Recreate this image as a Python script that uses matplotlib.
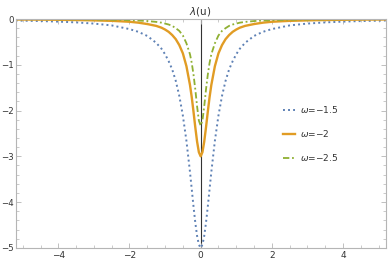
import numpy as np
import matplotlib
matplotlib.use('Agg')
import matplotlib.pyplot as plt
from matplotlib.ticker import MultipleLocator

# values
u = [-5.2, -4.5, -4.0, -3.5, -3.0, -2.5, -2.0, -1.75, -1.5, -1.25, -1.1, -1.0,
     -0.9, -0.8, -0.7, -0.6, -0.5, -0.4, -0.3, -0.25, -0.2, -0.15, -0.1, -0.05,
     0.0,
     0.05, 0.1, 0.15, 0.2, 0.25, 0.3, 0.4, 0.5, 0.6, 0.7, 0.8, 0.9,
     1.0, 1.1, 1.25, 1.5, 1.75, 2.0, 2.5, 3.0, 3.5, 4.0, 4.5, 5.2]

lam_15 = [-0.033, -0.045, -0.057, -0.074, -0.10, -0.14, -0.22, -0.28, -0.37, -0.52, -0.65, -0.77,
          -0.92, -1.10, -1.35, -1.68, -2.11, -2.66, -3.34, -3.72, -4.10, -4.45, -4.74, -4.93,
          -5.00,
          -4.93, -4.74, -4.45, -4.10, -3.72, -3.34, -2.66, -2.11, -1.68, -1.35, -1.10, -0.92,
          -0.77, -0.65, -0.52, -0.37, -0.28, -0.22, -0.14, -0.10, -0.074, -0.057, -0.045, -0.033]

lam_20 = [-0.010, -0.013, -0.017, -0.022, -0.03, -0.04, -0.06, -0.08, -0.11, -0.15, -0.19, -0.23,
          -0.28, -0.35, -0.44, -0.57, -0.75, -1.03, -1.44, -1.71, -2.03, -2.37, -2.68, -2.91,
          -3.00,
          -2.91, -2.68, -2.37, -2.03, -1.71, -1.44, -1.03, -0.75, -0.57, -0.44, -0.35, -0.28,
          -0.23, -0.19, -0.15, -0.11, -0.08, -0.06, -0.04, -0.03, -0.022, -0.017, -0.013, -0.010]

lam_25 = [-0.004, -0.005, -0.006, -0.008, -0.011, -0.016, -0.025, -0.033, -0.045, -0.063, -0.08, -0.10,
          -0.12, -0.15, -0.20, -0.26, -0.36, -0.53, -0.77, -0.96, -1.22, -1.54, -1.91, -2.22,
          -2.33,
          -2.22, -1.91, -1.54, -1.22, -0.96, -0.77, -0.53, -0.36, -0.26, -0.20, -0.15, -0.12,
          -0.10, -0.08, -0.063, -0.045, -0.033, -0.025, -0.016, -0.011, -0.008, -0.006, -0.005, -0.004]

labels = ['$\\omega$=\u22121.5', '$\\omega$=\u22122', '$\\omega$=\u22122.5']

BLUE = '#5E81B5'
ORANGE = '#E19C24'
GREEN = '#8FB032'
FRAME = '#b5b5b5'
TXT = '#333333'

plt.rcParams['font.family'] = 'DejaVu Sans'
plt.rcParams['mathtext.fontset'] = 'dejavusans'

fig = plt.figure(figsize=(3.9, 2.64), dpi=100)
ax = fig.add_axes([0.04, 0.061, 0.949, 0.867])

ax.plot(u, lam_15, color=BLUE, lw=1.4, linestyle=(0, (1, 1.6)), label=labels[0])
ax.plot(u, lam_20, color=ORANGE, lw=1.7, linestyle='-', label=labels[1])
ax.plot(u, lam_25, color=GREEN, lw=1.3, linestyle=(0, (3.5, 1.5, 1, 1.5)), label=labels[2])

ax.axvline(0, color='#333333', lw=0.8, zorder=0)

ax.set_xlim(-5.2, 5.2)
ax.set_ylim(-5, 0)

for s in ax.spines.values():
    s.set_color(FRAME)
    s.set_linewidth(0.8)

ax.xaxis.set_major_locator(MultipleLocator(2))
ax.xaxis.set_minor_locator(MultipleLocator(0.5))
ax.yaxis.set_major_locator(MultipleLocator(1))
ax.yaxis.set_minor_locator(MultipleLocator(0.2))
ax.tick_params(which='both', direction='in', top=True, right=True, color=FRAME,
               labelsize=6.5, labelcolor=TXT)
ax.tick_params(which='major', length=3.5, width=0.6, pad=2)
ax.tick_params(which='minor', length=2, width=0.5)
ax.tick_params(axis='y', which='major', pad=1.2, labelsize=6.2)
ax.set_xticks([-4, -2, 0, 2, 4])
ax.set_xticklabels(['\u22124', '\u22122', '0', '2', '4'])
ax.set_yticks([0, -1, -2, -3, -4, -5])
ax.set_yticklabels(['0', '\u22121', '\u22122', '\u22123', '\u22124', '\u22125'])

ax.set_title('$\\lambda$(u)', fontsize=7.5, color=TXT, pad=3.5)

leg = ax.legend(loc='center left', bbox_to_anchor=(0.7, 0.5), frameon=False,
                fontsize=6.5, handlelength=1.4, handletextpad=0.5, labelspacing=1.45)
for t in leg.get_texts():
    t.set_color(TXT)

fig.savefig('out.png', dpi=100)
